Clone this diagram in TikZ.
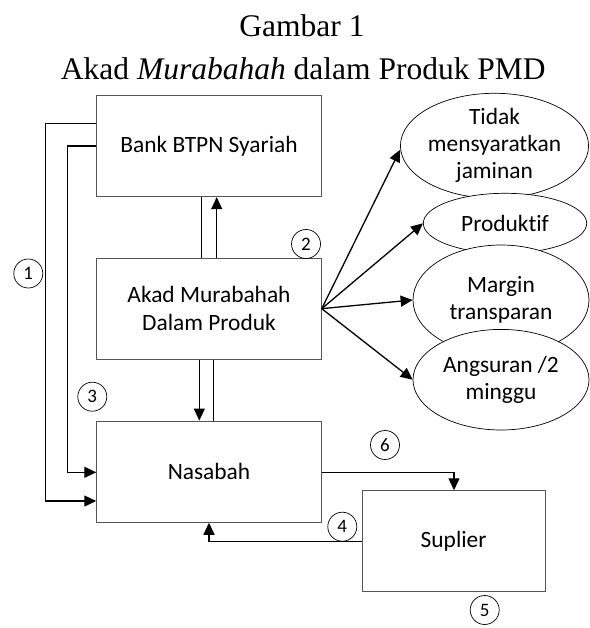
\documentclass[tikz,border=0pt]{standalone}
\usepackage{fontspec}
\setmainfont{Liberation Serif}
\newfontfamily\boxfont[Ligatures=NoCommon]{Carlito}
\usetikzlibrary{arrows.meta,shapes.geometric}
\definecolor{boxgray}{RGB}{85,85,85}
\begin{document}
\begin{tikzpicture}[x=1pt,y=-1pt,
  box/.style={draw=boxgray,line width=0.9pt,rectangle,inner sep=0pt,
    font=\boxfont\fontsize{23.4}{27.5}\selectfont,align=center},
  oval/.style={draw=black,line width=0.7pt,ellipse,fill=white,inner sep=0pt,
    font=\boxfont\fontsize{23.4}{27}\selectfont,align=center},
  num/.style={draw=black,line width=0.7pt,circle,minimum size=29pt,inner sep=0pt,
    font=\boxfont\fontsize{19}{19}\selectfont},
  conn/.style={draw=black,line width=1.3pt},
  arr/.style={conn,-{Triangle[length=12pt,width=11pt]}},
  ttl/.style={font=\fontsize{31.5}{36}\selectfont,anchor=base}]
\useasboundingbox (0,0) rectangle (589,628);
% title
\node[ttl] (t1) at (302,36.7) {Gambar 1};
\node[ttl] (t2) at (303.3,80) {Akad \textit{Murabahah} dalam Produk PMD};
% boxes
\node[box,minimum width=224.6pt,minimum height=101.7pt] (bank) at (209,145.85) {Bank BTPN Syariah};
\node[box,minimum width=224.6pt,minimum height=101.3pt] (akad) at (209,308.65) {Akad Murabahah\\Dalam Produk};
\node[box,minimum width=224.6pt,minimum height=101.3pt] (nas) at (209,471.65) {Nasabah};
\node[box,minimum width=183.3pt,minimum height=101pt] (sup) at (453.65,541.2) {Suplier};
% ellipses
\node[oval,minimum width=184.4pt,minimum height=101.7pt] (tidak) at (494.5,145.8) {Tidak\\mensyaratkan\\jaminan};
\node[oval,minimum width=163.4pt,minimum height=60pt] (prod) at (505,223.3) {Produktif};
\node[oval,minimum width=176pt,minimum height=110pt] (marg) at (501,300) {Margin\\transparan};
\node[oval,minimum width=176pt,minimum height=100.6pt] (angs) at (501,379.7) {Angsuran /2\\minggu};
% number circles
\node[num] (c1) at (28.3,273.5) {1};
\node[num] (c2) at (306,244) {2};
\node[num] (c3) at (92.3,396.7) {3};
\node[num] (c4) at (342.3,526.7) {4};
\node[num] (c5) at (484.7,610) {5};
\node[num] (c6) at (385,445) {6};
% connectors
\draw[arr] (bank.west |- 0,123.3) -| (45.7,501) -- (nas.west |- 0,501);
\draw[arr] (bank.west |- 0,146) -| (67.7,472.3) -- (nas.west |- 0,472.3);
\draw[conn] (bank.south -| 201.7,0) -- (akad.north -| 201.7,0);
\draw[arr] (akad.north -| 216.7,0) -- (bank.south -| 216.7,0);
\draw[arr] (akad.south -| 199.3,0) -- (nas.north -| 199.3,0);
\draw[conn] (akad.south -| 213.7,0) -- (nas.north -| 213.7,0);
\draw[arr] (nas.east |- 0,472.3) -| (sup.north -| 454,0);
\draw[arr] (sup.west) -| (nas.south);
\draw[arr] (akad.east) -- ([yshift=-4pt]tidak.west);
\draw[arr] (akad.east) -- (prod.west);
\draw[arr] (akad.east) -- (marg.west);
\draw[arr] (akad.east) -- (angs.west);
\end{tikzpicture}
\end{document}
